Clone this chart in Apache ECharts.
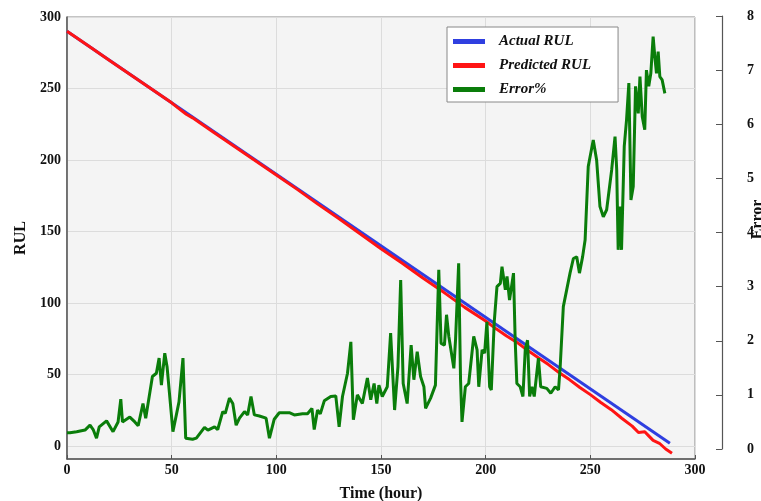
<!DOCTYPE html>
<html lang="en">
  <head>
    <meta charset="UTF-8" />
    <title>RUL prediction</title>
    <style>
      html, body { margin: 0; padding: 0; background: #fff; }
      #chart { width: 761px; height: 501px; }
    </style>
  </head>
  <body>
    <div id="chart"></div>
    <script src="https://cdn.jsdelivr.net/npm/echarts@6/dist/echarts.min.js"></script>
    <script>
      // [time (hour), value]
      var actualRUL = [[0, 290], [288, 2]];

      var predictedRUL = [
        [0, 290], [10, 280], [20, 270], [30, 260], [40, 250], [50, 240], [53, 236.5],
        [57, 232], [60, 229.5], [70, 219.5], [80, 209.5], [90, 199.5], [100, 189.5],
        [110, 179.5], [120, 169], [130, 159], [140, 148.5], [150, 138], [160, 128],
        [170, 117.5], [180, 107.5], [190, 97], [200, 87.5], [205, 82], [210, 77],
        [215, 72.5], [220, 67], [225, 62], [230, 57], [235, 51.5], [240, 46.5],
        [245, 41], [250, 36], [255, 30.5], [260, 25.5], [265, 19.5], [270, 14],
        [273, 9.5], [276, 10], [278, 7], [280, 4], [283, 2], [286, -2], [289, -5]
      ];

      var errorPct = [
        [0, 0.30], [1.4, 0.30], [4.6, 0.32], [8.6, 0.35], [11, 0.44], [12.5, 0.36], [14.1, 0.20],
        [15.4, 0.41], [18.9, 0.52], [22, 0.32], [24.4, 0.50], [25.7, 0.92], [26.5, 0.50], [30, 0.59],
        [32.4, 0.50], [34, 0.43], [36.3, 0.84], [37.6, 0.57], [40.8, 1.34], [42.7, 1.40], [44, 1.68],
        [45.1, 1.18], [46.7, 1.77], [47.8, 1.52], [50.6, 0.32], [53.5, 0.87], [55.4, 1.68], [56.7, 0.20],
        [60, 0.18], [61.8, 0.20], [65.7, 0.40], [67.3, 0.35], [70.5, 0.41], [72, 0.36], [74.4, 0.69],
        [75.6, 0.66], [77.6, 0.94], [79.2, 0.84], [80.8, 0.44], [82.4, 0.57], [84.8, 0.69], [86.3, 0.63],
        [87.9, 0.97], [89.5, 0.63], [91.9, 0.61], [95.1, 0.57], [96.7, 0.20], [99, 0.55], [101.4, 0.67],
        [106.2, 0.67], [108.6, 0.63], [112.5, 0.65], [114.9, 0.65], [117, 0.75], [118.1, 0.36],
        [119.7, 0.72], [121, 0.65], [122.9, 0.89], [126, 0.97], [128.4, 0.98], [130, 0.41], [131.6, 0.97],
        [134, 1.40], [135.6, 1.98], [136.8, 0.54], [138.7, 1.00], [141.1, 0.84], [143.5, 1.31],
        [145.1, 0.91], [146.7, 1.21], [148, 0.84], [149, 1.18], [150.6, 0.97], [153, 1.15], [154.6, 2.14],
        [156.5, 0.72], [158.1, 1.52], [159.4, 3.12], [160.6, 1.21], [162.5, 0.84], [164.4, 1.92],
        [165.7, 1.28], [167.3, 1.80], [168.9, 1.34], [170.5, 1.15], [171.3, 0.75], [173.7, 0.94],
        [176, 1.18], [177.6, 3.31], [178.7, 1.95], [180.3, 1.92], [181.3, 2.48], [182.4, 2.08],
        [184.8, 1.49], [185.6, 2.01], [187.1, 3.43], [188, 1.28], [188.7, 0.50], [190.3, 1.15],
        [191.9, 1.21], [192.7, 1.23], [194.3, 2.08], [195.9, 1.83], [196.7, 1.15], [198.3, 1.83],
        [199.5, 1.77], [200.6, 2.35], [201.9, 1.15], [202.7, 1.09], [204.1, 2.35], [205.4, 3.0],
        [207, 3.06], [207.8, 3.37], [209.4, 2.94], [210.2, 3.19], [211.4, 2.75], [213.3, 3.25],
        [214.1, 2.01], [214.9, 1.21], [216.5, 1.15], [217.8, 0.97], [218.9, 1.83], [220, 2.01],
        [221, 0.97], [222.1, 1.15], [223.2, 0.97], [225.2, 1.68], [226.3, 1.15], [229.2, 1.12],
        [231.1, 1.03], [233.2, 1.15], [234.8, 1.09], [235.6, 1.52], [237.1, 2.63], [238.7, 2.94],
        [240.3, 3.25], [241.9, 3.52], [243.5, 3.55], [244.8, 3.25], [246.3, 3.55], [247.5, 3.86],
        [249, 5.22], [251.4, 5.71], [253, 5.34], [254.6, 4.48], [256.2, 4.29], [257.8, 4.42],
        [260.2, 5.16], [261.8, 5.77], [262.6, 5.16], [263.3, 3.68], [264.1, 4.48], [264.9, 3.68],
        [266.2, 5.59], [267.3, 6.08], [268.4, 6.76], [269.4, 4.60], [270.5, 4.85], [271.6, 6.70],
        [272.9, 6.20], [273.7, 6.88], [274.8, 6.14], [276, 5.90], [276.8, 7.0], [277.9, 6.70],
        [278.9, 6.94], [280, 7.62], [280.8, 7.25], [281.6, 6.94], [282.4, 7.34], [283.2, 6.88],
        [284.3, 6.82], [285.6, 6.57]
      ];

      var rulTicks = [0, 50, 100, 150, 200, 250, 300];

      var myChart = echarts.init(document.getElementById('chart'));

      var serif = 'Liberation Serif';
      var tickFont = { fontFamily: serif, fontWeight: 'bold', fontSize: 14, color: '#111' };
      var nameFont = { fontFamily: serif, fontWeight: 'bold', fontSize: 16, color: '#111' };

      var option = {
        animation: false,
        legend: {
          orient: 'vertical',
          left: 447,
          top: 27,
          width: 170,
          padding: [7, 27, 5, 6],
          itemGap: 9,
          itemWidth: 32,
          itemHeight: 5,
          icon: 'rect',
          backgroundColor: '#fff',
          borderColor: '#888',
          borderWidth: 1,
          textStyle: {
            fontFamily: serif, fontWeight: 'bold', fontStyle: 'italic', fontSize: 15, color: '#111',
            padding: [0, 0, 0, 9]
          },
          data: ['Actual RUL', 'Predicted RUL', 'Error%']
        },
        grid: [
          {
            left: 67, right: 66, top: 17, bottom: 42,
            outerBoundsMode: 'none',
            show: true, backgroundColor: '#f4f4f4', borderColor: '#888', borderWidth: 1
          },
          { left: 67, right: 66, top: 16, bottom: 52, outerBoundsMode: 'none' }
        ],
        xAxis: [
          {
            gridIndex: 0,
            type: 'value',
            min: 0, max: 300, interval: 50,
            name: 'Time (hour)',
            nameLocation: 'middle',
            nameGap: 27,
            nameTextStyle: nameFont,
            axisLine: { onZero: false, lineStyle: { color: '#555', width: 1.5 } },
            axisTick: { inside: true, length: 4, lineStyle: { color: '#555' } },
            axisLabel: Object.assign({ margin: 4 }, tickFont),
            splitLine: { show: true, lineStyle: { color: '#dcdcdc' } }
          },
          {
            gridIndex: 1,
            type: 'value',
            min: 0, max: 300,
            show: false
          }
        ],
        yAxis: [
          {
            gridIndex: 0,
            type: 'value',
            min: -9, max: 300,
            name: 'RUL',
            nameLocation: 'middle',
            nameGap: 37,
            nameTextStyle: nameFont,
            axisLine: { show: true, onZero: false, lineStyle: { color: '#555', width: 1.5 } },
            axisTick: { show: false, customValues: rulTicks },
            axisLabel: Object.assign({ margin: 6, customValues: rulTicks }, tickFont),
            splitLine: { show: true, lineStyle: { color: '#dcdcdc' } }
          },
          {
            gridIndex: 1,
            type: 'value',
            position: 'right',
            offset: 27,
            min: 0, max: 8, interval: 1,
            name: 'Error',
            nameLocation: 'middle',
            nameGap: 28,
            nameMoveOverlap: false,
            nameTextStyle: Object.assign({ padding: [0, 0, 0, 26] }, nameFont),
            axisLine: { show: true, onZero: false, lineStyle: { color: '#555', width: 1.2 } },
            axisTick: { show: true, inside: true, length: 6, lineStyle: { color: '#555' } },
            axisLabel: Object.assign({ margin: 25 }, tickFont),
            splitLine: { show: false }
          }
        ],
        series: [
          {
            name: 'Actual RUL',
            type: 'line',
            xAxisIndex: 0, yAxisIndex: 0,
            showSymbol: false,
            color: '#2f3fe0',
            lineStyle: { width: 3 },
            data: actualRUL
          },
          {
            name: 'Predicted RUL',
            type: 'line',
            xAxisIndex: 0, yAxisIndex: 0,
            showSymbol: false,
            color: '#ff1414',
            lineStyle: { width: 3 },
            data: predictedRUL
          },
          {
            name: 'Error%',
            type: 'line',
            xAxisIndex: 1, yAxisIndex: 1,
            showSymbol: false,
            color: '#0a7d0a',
            lineStyle: { width: 3 },
            data: errorPct
          }
        ]
      };

      myChart.setOption(option);
    </script>
  </body>
</html>
